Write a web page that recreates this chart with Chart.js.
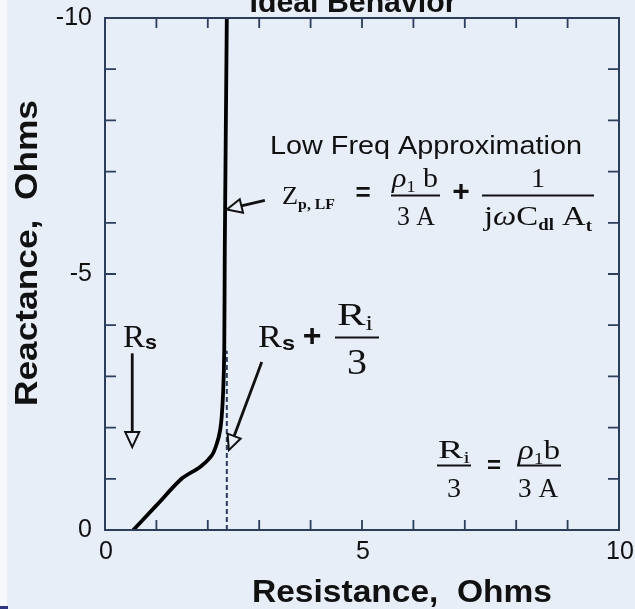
<!DOCTYPE html>
<html>
<head>
<meta charset="utf-8">
<script src="https://cdn.jsdelivr.net/npm/chart.js@4.4.0/dist/chart.umd.min.js"></script>
<style>
html, body { margin: 0; padding: 0; background: #e8eef8; }
canvas { display: block; }
</style>
</head>
<body>
<canvas id="impedanceChart" width="635" height="609"></canvas>
<script>
// Ideal behaviour curve (resistance vs reactance, Ohms)
const resistance = [0.55, 1.0, 1.5, 1.85, 2.08, 2.18, 2.24, 2.27, 2.30, 2.32, 2.33, 2.37];
const reactance = [0, -0.48, -1.01, -1.23, -1.46, -1.70, -1.95, -2.21, -2.73, -3.51, -5.46, -10];
// Rs + Ri/3 asymptote (dashed)
const asymptoteR = [2.37, 2.37];
const asymptoteX = [0, -3.5];

const xTickValues = [0, 1, 2, 3, 4, 5, 6, 7, 8, 9, 10];
const yTickValues = [0, -1, -2, -3, -4, -5, -6, -7, -8, -9, -10];
const xLabelValues = [0, 5, 10];
const yLabelValues = [0, -5, -10];

const colors = {
    bg: "#e8eef8",
    axis: "#2c3e5c",
    ink: "#111111",
};
const SANS = "'Liberation Sans', Arial, sans-serif";
const SERIF = "'Liberation Serif', 'Times New Roman', serif";

function toPoints(xs, ys) {
    return xs.map((x, i) => ({ x: x, y: ys[i] }));
}

function fitText(ctx, s, x, y, font, width, align) {
    ctx.save();
    ctx.font = font;
    const w = ctx.measureText(s).width;
    const k = width / w;
    ctx.translate(x, y);
    ctx.scale(k, 1);
    ctx.textAlign = align || "center";
    ctx.fillText(s, 0, 0);
    ctx.restore();
}

// pieces: [text, font, dy]
function runWidth(ctx, pieces) {
    let w = 0;
    pieces.forEach((p) => { ctx.font = p[1]; w += ctx.measureText(p[0]).width; });
    return w;
}

// draws a run of pieces between x1 and x2 (stretched to fit), on baseline y
function drawRun(ctx, pieces, x1, x2, y) {
    const w = runWidth(ctx, pieces);
    ctx.save();
    ctx.fillStyle = colors.ink;
    ctx.textAlign = "left";
    ctx.textBaseline = "alphabetic";
    ctx.translate(x1, y);
    ctx.scale((x2 - x1) / w, 1);
    let cx = 0;
    pieces.forEach((p) => {
        ctx.font = p[1];
        ctx.fillText(p[0], cx, p[2] || 0);
        cx += ctx.measureText(p[0]).width;
    });
    ctx.restore();
}

function bar(ctx, x1, x2, y) {
    ctx.save();
    ctx.strokeStyle = colors.ink;
    ctx.lineWidth = 1.8;
    ctx.beginPath();
    ctx.moveTo(x1, y);
    ctx.lineTo(x2, y);
    ctx.stroke();
    ctx.restore();
}

function arrow(ctx, x1, y1, x2, y2) {
    const ang = Math.atan2(y2 - y1, x2 - x1);
    const len = 15, half = 7;
    const bx = x2 - Math.cos(ang) * len, by = y2 - Math.sin(ang) * len;
    ctx.save();
    ctx.strokeStyle = colors.ink;
    ctx.lineWidth = 2.8;
    ctx.beginPath();
    ctx.moveTo(x1, y1);
    ctx.lineTo(bx, by);
    ctx.stroke();
    ctx.lineWidth = 2;
    ctx.fillStyle = colors.bg;
    ctx.beginPath();
    ctx.moveTo(x2, y2);
    ctx.lineTo(bx + Math.sin(ang) * half, by - Math.cos(ang) * half);
    ctx.lineTo(bx - Math.sin(ang) * half, by + Math.cos(ang) * half);
    ctx.closePath();
    ctx.fill();
    ctx.stroke();
    ctx.restore();
}

const backgroundPlugin = {
    id: "background",
    beforeDraw(chart) {
        const ctx = chart.ctx;
        ctx.save();
        ctx.fillStyle = colors.bg;
        ctx.fillRect(0, 0, chart.width, chart.height);
        ctx.fillStyle = "#f6f8fc";
        ctx.fillRect(0, 0, 7, chart.height);
        ctx.fillStyle = "#2e3580";
        ctx.fillRect(0, 606, 8, 3);
        ctx.restore();
    },
};

const framePlugin = {
    id: "frame",
    afterDraw(chart) {
        const ctx = chart.ctx;
        const xs = chart.scales.x, ys = chart.scales.y;
        const a = chart.chartArea;
        const px = (v) => xs.getPixelForValue(v);
        const py = (v) => ys.getPixelForValue(v);

        ctx.save();
        // axis box
        ctx.strokeStyle = colors.axis;
        ctx.lineWidth = 2;
        ctx.strokeRect(a.left, a.top, a.right - a.left, a.bottom - a.top);
        // inward ticks on all four sides
        ctx.lineWidth = 1.8;
        ctx.beginPath();
        xTickValues.slice(1, -1).forEach((v) => {
            ctx.moveTo(px(v), a.bottom); ctx.lineTo(px(v), a.bottom - 10);
            ctx.moveTo(px(v), a.top); ctx.lineTo(px(v), a.top + 10);
        });
        yTickValues.slice(1, -1).forEach((v) => {
            ctx.moveTo(a.left, py(v)); ctx.lineTo(a.left + 11, py(v));
            ctx.moveTo(a.right, py(v)); ctx.lineTo(a.right - 11, py(v));
        });
        ctx.stroke();

        // tick labels
        ctx.fillStyle = colors.ink;
        ctx.font = "25px " + SANS;
        ctx.textBaseline = "middle";
        ctx.textAlign = "center";
        xLabelValues.forEach((v) => ctx.fillText(String(v), px(v) + 1, a.bottom + 22));
        ctx.textAlign = "right";
        yLabelValues.forEach((v) => ctx.fillText(String(v), a.left - 13, py(v)));

        // titles
        ctx.textBaseline = "alphabetic";
        fitText(ctx, "Resistance,  Ohms", 402, 602, "bold 32px " + SANS, 300);
        ctx.save();
        ctx.translate(37, 253);
        ctx.rotate(-Math.PI / 2);
        fitText(ctx, "Reactance,  Ohms", 0, 0, "bold 32px " + SANS, 306);
        ctx.restore();
        fitText(ctx, "Ideal Behavior", 353, 12, "bold 30px " + SANS, 207);

        // low frequency approximation
        fitText(ctx, "Low Freq Approximation", 270, 154, "25px " + SANS, 312, "left");
        drawRun(ctx, [["Z", "25px " + SERIF], ["p, LF", "bold 15px " + SERIF, 5]], 282, 335, 204);
        ctx.font = "bold 26px " + SANS;
        ctx.textAlign = "center";
        ctx.textBaseline = "middle";
        ctx.fillText("=", 363, 194);
        ctx.font = "bold 30px " + SANS;
        ctx.fillText("+", 461, 193);
        drawRun(ctx, [["\u03c1", "italic 28px " + SERIF], ["1", "17px " + SERIF, 5], [" b", "28px " + SERIF]], 392, 438, 187);
        bar(ctx, 391, 440, 195.5);
        drawRun(ctx, [["3 A", "28px " + SERIF]], 397, 435, 225);
        drawRun(ctx, [["1", "28px " + SERIF]], 531, 545, 187);
        bar(ctx, 482, 594, 195.5);
        drawRun(ctx, [["j", "28px " + SERIF], ["\u03c9", "italic 28px " + SERIF], ["C", "28px " + SERIF],
            ["dl", "bold 16px " + SERIF, 5], [" A", "28px " + SERIF], ["t", "bold 16px " + SERIF, 6]], 484, 592, 225);

        // Rs label
        drawRun(ctx, [["R", "32px " + SERIF], ["s", "bold 21px " + SANS, 2]], 123, 157, 347);
        // Rs + Ri/3 label
        drawRun(ctx, [["R", "32px " + SERIF], ["s", "bold 21px " + SANS, 3]], 258, 295, 347);
        ctx.font = "bold 32px " + SANS;
        ctx.textAlign = "center";
        ctx.textBaseline = "middle";
        ctx.fillText("+", 312, 337);
        drawRun(ctx, [["R", "32px " + SERIF], ["i", "20px " + SERIF, 5]], 337, 373, 325);
        bar(ctx, 335, 379, 337.5);
        drawRun(ctx, [["3", "36px " + SERIF]], 347, 367, 374);

        // Ri/3 = rho1 b / 3A
        drawRun(ctx, [["R", "25px " + SERIF], ["i", "16px " + SERIF, 5]], 438, 470, 458);
        bar(ctx, 437, 471, 465.5);
        drawRun(ctx, [["3", "28px " + SERIF]], 447, 461, 497);
        ctx.font = "bold 24px " + SANS;
        ctx.textAlign = "center";
        ctx.textBaseline = "middle";
        ctx.fillText("=", 494, 466);
        drawRun(ctx, [["\u03c1", "italic 28px " + SERIF], ["1", "17px " + SERIF, 5], ["b", "28px " + SERIF]], 518, 560, 459);
        bar(ctx, 517, 561, 465.5);
        drawRun(ctx, [["3 A", "28px " + SERIF]], 518, 558, 497);

        // arrows (data coordinates)
        arrow(ctx, px(0.53), py(-3.45), px(0.53), py(-1.62));
        arrow(ctx, px(3.05), py(-3.28), px(2.41), py(-1.56));
        arrow(ctx, px(3.11), py(-6.44), px(2.37), py(-6.26));
        ctx.restore();
    },
};

new Chart(document.getElementById("impedanceChart"), {
    type: "scatter",
    data: {
        datasets: [
            {
                label: "Rs + Ri/3",
                data: toPoints(asymptoteR, asymptoteX),
                showLine: true,
                borderColor: colors.axis,
                borderWidth: 2,
                borderDash: [5, 3],
                pointRadius: 0,
            },
            {
                label: "Ideal Behavior",
                data: toPoints(resistance, reactance),
                showLine: true,
                borderColor: "#000000",
                borderWidth: 3.8,
                tension: 0.3,
                pointRadius: 0,
            },
        ],
    },
    options: {
        responsive: false,
        animation: false,
        layout: { padding: { left: 105, top: 18, right: 16, bottom: 79 } },
        plugins: { legend: { display: false }, tooltip: { enabled: false } },
        scales: {
            x: { type: "linear", min: 0, max: 10, display: false },
            y: { type: "linear", min: -10, max: 0, reverse: true, display: false },
        },
    },
    plugins: [backgroundPlugin, framePlugin],
});
</script>
</body>
</html>
